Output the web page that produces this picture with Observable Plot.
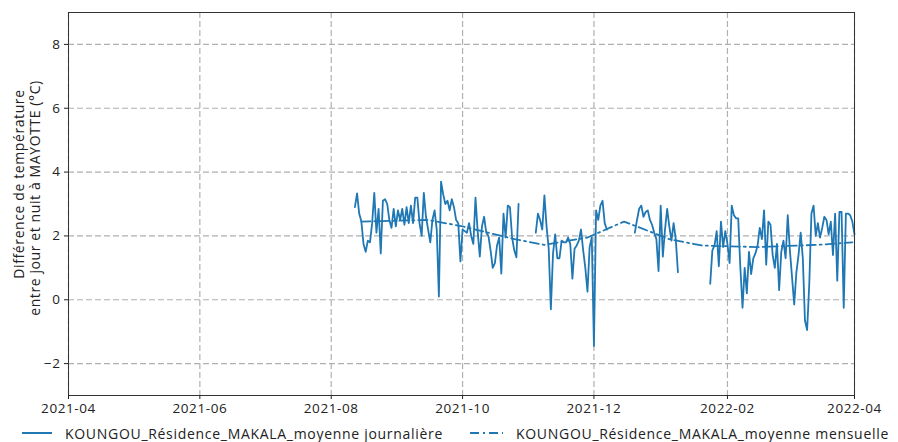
<!DOCTYPE html>
<html>
<head>
<meta charset="utf-8">
<script src="https://cdn.jsdelivr.net/npm/d3@7"></script>
<script src="https://cdn.jsdelivr.net/npm/@observablehq/plot@0.6"></script>
<style>
  body { margin: 0; background: #fff; font-family: "Open Sans", Lato, sans-serif; }
  #wrap { position: relative; width: 898px; height: 442px; overflow: hidden; }
  #chart svg text { letter-spacing: 0.6px; }
  #legend { position: absolute; left: 0; top: 423px; width: 898px; height: 20px; font-size: 14px; letter-spacing: 0.7px; color: #222; }
  .item { position: absolute; top: 0; display: flex; align-items: center; height: 20px; white-space: nowrap; }
  .item svg { margin-right: 13px; }
</style>
</head>
<body>
<div id="wrap">
  <div id="chart"></div>
  <div id="legend"></div>
</div>
<script>
// ---- data ----
const dailyStart = "2021-08-12";
const dailyValues = [
  2.9, 3.33, 2.7, 2.45, 1.75, 1.5, 1.85, 1.8, 2.4, 3.35,
  2.1, 2.85, 1.45, 3.1, 3.15, 3.0, 2.5, 2.25, 2.85, 2.3,
  2.8, 2.5, 2.85, 2.35, 2.9, 2.4, 2.95, 2.4, 3.2, 3.2,
  2.4, 2.0, 3.35, 2.6, 2.2, 1.8, 2.5, 2.8, 2.2, 0.1,
  3.7, 3.3, 3.0, 3.1, 2.8, 3.15, 2.9, 2.5, 2.4, 1.2,
  2.2, 2.15, 2.1, 2.4, 2.0, 1.75, 3.2, 2.15, 1.35, 2.3,
  2.6, 2.1, 2.0, 1.55, 1.0, 1.15, 1.7, 1.95, 0.82, 2.7,
  1.95, 2.95, 2.9, 1.95, 1.55, 1.33, 3.0, null, null, null,
  null, null, null, null, 2.1, 2.7, 2.5, 2.2, 3.27, 2.3,
  1.6, -0.3, 1.45, 2.05, 1.3, 1.3, 1.85, 1.8, 1.8, 1.95,
  1.75, 0.66, 1.6, 1.7, 1.85, 2.2, 1.55, 1.0, 0.25, 1.65,
  1.96, -1.45, 2.8, 2.5, 2.96, 3.1, 2.4, 2.2, null, null,
  null, null, null, null, null, null, null, null, null, null,
  2.1, 2.5, 2.85, 2.95, 2.6, 2.75, 2.8, 2.5, 2.35, 2.1,
  1.9, 0.9, 2.95, 1.35, 2.2, 2.85, 2.3, 1.85, 2.4, 1.9,
  0.86, null, null, null, null, null, null, null, null, null,
  null, null, null, null, null, 0.5, 1.55, 1.7, 2.15, 1.05,
  2.45, 1.65, 2.15, 1.75, 1.15, 2.95, 2.65, 2.55, 2.55, 1.0,
  -0.25, 1.0, 0.2, 1.5, 0.8, 1.3, 1.45, 1.7, 2.25, 1.9,
  2.8, 1.1, 2.45, 2.35, 1.4, 1.0, 1.75, 0.3, 1.5, 1.85,
  1.3, 2.65, 1.55, 0.7, -0.15, 0.85, 1.4, 2.1, 1.3, -0.65,
  -0.95, 0.5, 2.7, 2.95, 2.0, 2.4, 1.95, 2.25, 2.6, 2.5,
  2.05, 2.45, 1.4, 2.7, 0.6, 2.75, 2.75, -0.25, 2.7, 2.7,
  2.65, 2.45, 2.05
];
const monthlyDates = [
  "2021-08-15", "2021-09-15", "2021-10-01", "2021-10-25", "2021-11-08", "2021-11-28",
  "2021-12-15", "2022-01-05", "2022-01-20", "2022-02-15", "2022-03-15", "2022-03-31"
];
const monthlyValues = [2.45, 2.5, 2.3, 1.9, 1.72, 1.95, 2.45, 1.9, 1.7, 1.65, 1.72, 1.8];
const xTicks = ["2021-04-01", "2021-06-01", "2021-08-01", "2021-10-01", "2021-12-01", "2022-02-01", "2022-04-01"];
const xTickLabels = ["2021-04", "2021-06", "2021-08", "2021-10", "2021-12", "2022-02", "2022-04"];
const yTicks = [-2, 0, 2, 4, 6, 8];
const yLabelLines = ["Différence de température", "entre jour et nuit à MAYOTTE (°C)"];
const seriesNames = ["KOUNGOU_Résidence_MAKALA_moyenne journalière", "KOUNGOU_Résidence_MAKALA_moyenne mensuelle"];

// ---- build ----
const blue = "#1f77b4";
const font = "'Open Sans', Lato, sans-serif";
const start = new Date(dailyStart);
const daily = dailyValues.map((v, i) => ({date: d3.utcDay.offset(start, i), value: v}));
const monthly = monthlyDates.map((d, i) => ({date: new Date(d), value: monthlyValues[i]}));
const xTickDates = xTicks.map(d => new Date(d));
const labelFor = new Map(xTickDates.map((d, i) => [+d, xTickLabels[i]]));

const chart = Plot.plot({
  width: 898,
  height: 422,
  marginLeft: 68,
  marginRight: 44,
  marginTop: 12,
  marginBottom: 27,
  style: {fontFamily: font, fontSize: "13px", color: "#222", background: "#fff"},
  x: {type: "utc", domain: [xTickDates[0], xTickDates[xTickDates.length - 1]]},
  y: {domain: [-3, 9]},
  marks: [
    Plot.gridX(xTickDates, {stroke: "#b0b0b0", strokeOpacity: 1, strokeWidth: 1.2, strokeDasharray: "6,3"}),
    Plot.gridY(yTicks, {stroke: "#b0b0b0", strokeOpacity: 1, strokeWidth: 1.2, strokeDasharray: "6,3"}),
    Plot.line(daily, {x: "date", y: "value", stroke: blue, strokeWidth: 1.8}),
    Plot.line(monthly, {x: "date", y: "value", stroke: blue, strokeWidth: 1.8, strokeDasharray: "9,4,2,4"}),
    Plot.frame({stroke: "#333", strokeWidth: 1}),
    Plot.axisX(xTickDates, {tickSize: 4, tickPadding: 4, tickFormat: d => labelFor.get(+d), label: null, fontSize: 13.5}),
    Plot.axisY(yTicks, {tickSize: 4, tickPadding: 4, tickFormat: d => d < 0 ? "\u2212" + Math.abs(d) : String(d), label: null, fontSize: 13.5}),
    Plot.text([yLabelLines[0]], {frameAnchor: "left", textAnchor: "middle", rotate: -90, dx: -49, dy: -20, fontSize: 14, fill: "#222"}),
    Plot.text([yLabelLines[1]], {frameAnchor: "left", textAnchor: "middle", rotate: -90, dx: -33, dy: -6, fontSize: 14, fill: "#222"})
  ]
});
document.getElementById("chart").appendChild(chart);

// legend
const legend = d3.select("#legend");
const items = [
  {left: 22, name: seriesNames[0], dash: null, w: 30},
  {left: 470, name: seriesNames[1], dash: "9,4,2,4", w: 33}
];
for (const it of items) {
  const div = legend.append("div").attr("class", "item").style("left", it.left + "px");
  const s = div.append("svg").attr("width", it.w).attr("height", 10);
  s.append("line").attr("x1", 0).attr("x2", it.w).attr("y1", 5).attr("y2", 5)
    .attr("stroke", blue).attr("stroke-width", 2).attr("stroke-dasharray", it.dash);
  div.append("span").text(it.name);
}
</script>
</body>
</html>
